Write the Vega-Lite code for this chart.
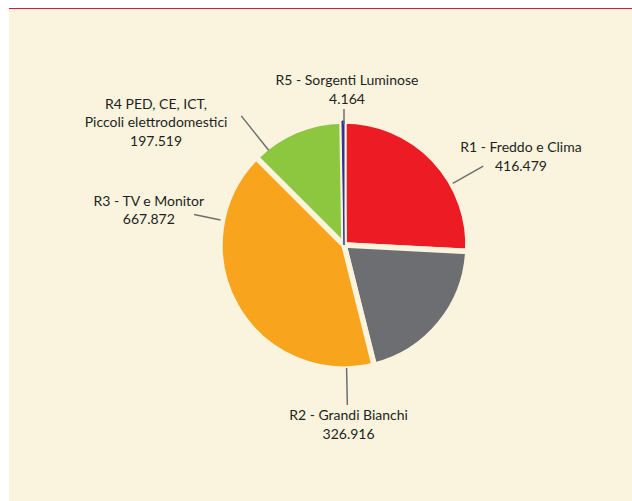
{
  "$schema": "https://vega.github.io/schema/vega-lite/v6.json",
  "background": "#FFFFFF",
  "padding": {"left": 9, "top": 8, "right": 0, "bottom": 0},
  "datasets": {
    "weee": [
      {"region": "R1", "name": "R1 - Freddo e Clima", "value": 416479},
      {"region": "R2", "name": "R2 - Grandi Bianchi", "value": 326916},
      {"region": "R3", "name": "R3 - TV e Monitor", "value": 667872},
      {"region": "R4", "name": "R4 PED, CE, ICT,\nPiccoli elettrodomestici", "value": 197519},
      {"region": "R5", "name": "R5 - Sorgenti Luminose", "value": 4164}
    ]
  },
  "spacing": 0,
  "vconcat": [
    {
      "width": 623, "height": 1,
      "view": {"fill": "#D6124B", "stroke": null},
      "data": {"name": "weee"},
      "mark": {"type": "point", "size": 0, "opacity": 0, "clip": true}
    },
    {
      "spacing": 0,
      "hconcat": [
        {
          "width": 47, "height": 472,
          "view": {"fill": "#FAF4DE", "stroke": null},
          "data": {"name": "weee"},
          "mark": {"type": "point", "size": 0, "opacity": 0, "clip": true}
        },
        {
          "width": 576, "height": 472,
          "view": {"fill": "#FAF4DE", "stroke": null},
          "data": {"name": "weee"},
          "layer": [
            {
              "mark": {"type": "arc", "outerRadius": 124, "clip": true},
              "encoding": {
                "theta": {"field": "value", "type": "quantitative", "stack": true},
                "order": {"field": "region", "sort": "ascending"},
                "color": {"field": "region", "type": "nominal", "legend": null,
                  "scale": {"domain": ["R1", "R2", "R3", "R4", "R5"],
                            "range": ["#ED1C24", "#6D6E71", "#F8A51D", "#8DC63F", "#2E3192"]}},
                "stroke": {"condition": {"test": "datum.region === 'R5'", "value": "#2E3192"}, "value": "#FAF4DE"},
                "strokeWidth": {"condition": {"test": "datum.region === 'R5'", "value": 1}, "value": 5.5}
              }
            },
            {
              "mark": {"type": "arc", "clip": true, "filled": false, "color": "#6D6E71", "strokeWidth": 1.5, "innerRadius": 125, "outerRadius": 160, "padAngle": 3, "thetaOffset": 0.2447, "theta2Offset": 0.2447},
              "encoding": {
                "theta": {"field": "value", "type": "quantitative", "stack": true},
                "order": {"field": "region", "sort": "ascending"},
                "strokeOpacity": {"condition": {"test": "datum.region === 'R1'", "value": 1}, "value": 0}
              }
            },
            {
              "mark": {"type": "arc", "clip": true, "filled": false, "color": "#6D6E71", "strokeWidth": 1.5, "innerRadius": 123, "outerRadius": 160, "padAngle": 3, "thetaOffset": 0.8615, "theta2Offset": 0.8615},
              "encoding": {
                "theta": {"field": "value", "type": "quantitative", "stack": true},
                "order": {"field": "region", "sort": "ascending"},
                "strokeOpacity": {"condition": {"test": "datum.region === 'R2'", "value": 1}, "value": 0}
              }
            },
            {
              "mark": {"type": "arc", "clip": true, "filled": false, "color": "#6D6E71", "strokeWidth": 1.5, "innerRadius": 126, "outerRadius": 153, "padAngle": 3, "thetaOffset": 0.7163, "theta2Offset": 0.7163},
              "encoding": {
                "theta": {"field": "value", "type": "quantitative", "stack": true},
                "order": {"field": "region", "sort": "ascending"},
                "strokeOpacity": {"condition": {"test": "datum.region === 'R3'", "value": 1}, "value": 0}
              }
            },
            {
              "mark": {"type": "arc", "clip": true, "filled": false, "color": "#6D6E71", "strokeWidth": 1.5, "innerRadius": 121, "outerRadius": 165, "padAngle": 3, "thetaOffset": -0.2711, "theta2Offset": -0.2711},
              "encoding": {
                "theta": {"field": "value", "type": "quantitative", "stack": true},
                "order": {"field": "region", "sort": "ascending"},
                "strokeOpacity": {"condition": {"test": "datum.region === 'R4'", "value": 1}, "value": 0}
              }
            },
            {
              "mark": {"type": "arc", "clip": true, "filled": false, "color": "#6D6E71", "strokeWidth": 1.5, "innerRadius": 121, "outerRadius": 136, "padAngle": 3, "thetaOffset": 0.008, "theta2Offset": 0.008},
              "encoding": {
                "theta": {"field": "value", "type": "quantitative", "stack": true},
                "order": {"field": "region", "sort": "ascending"},
                "strokeOpacity": {"condition": {"test": "datum.region === 'R5'", "value": 1}, "value": 0}
              }
            },
            {
              "mark": {"type": "text", "clip": true, "radius": 199.7, "thetaOffset": 0.2779, "baseline": "alphabetic", "align": "center", "lineBreak": "\n", "lineHeight": 18.5},
              "encoding": {
                "theta": {"field": "value", "type": "quantitative", "stack": true},
                "order": {"field": "region", "sort": "ascending"},
                "size": {"condition": {"test": "datum.region === 'R1'", "value": 14}, "value": 0},
                "text": {"condition": {"test": "datum.region === 'R1'", "field": "name", "type": "nominal"}, "value": ""}
              }
            },
            {
              "mark": {"type": "text", "clip": true, "radius": 199.7, "thetaOffset": 0.2779, "baseline": "alphabetic", "align": "center", "dy": 19},
              "encoding": {
                "theta": {"field": "value", "type": "quantitative", "stack": true},
                "order": {"field": "region", "sort": "ascending"},
                "size": {"condition": {"test": "datum.region === 'R1'", "value": 14}, "value": 0},
                "text": {"condition": {"test": "datum.region === 'R1'", "field": "value", "type": "quantitative", "format": ",d"}, "value": ""}
              }
            },
            {
              "mark": {"type": "text", "clip": true, "radius": 175, "thetaOffset": 0.8563, "baseline": "alphabetic", "align": "center", "lineBreak": "\n", "lineHeight": 18.5},
              "encoding": {
                "theta": {"field": "value", "type": "quantitative", "stack": true},
                "order": {"field": "region", "sort": "ascending"},
                "size": {"condition": {"test": "datum.region === 'R2'", "value": 14}, "value": 0},
                "text": {"condition": {"test": "datum.region === 'R2'", "field": "name", "type": "nominal"}, "value": ""}
              }
            },
            {
              "mark": {"type": "text", "clip": true, "radius": 175, "thetaOffset": 0.8563, "baseline": "alphabetic", "align": "center", "dy": 19},
              "encoding": {
                "theta": {"field": "value", "type": "quantitative", "stack": true},
                "order": {"field": "region", "sort": "ascending"},
                "size": {"condition": {"test": "datum.region === 'R2'", "value": 14}, "value": 0},
                "text": {"condition": {"test": "datum.region === 'R2'", "field": "value", "type": "quantitative", "format": ",d"}, "value": ""}
              }
            },
            {
              "mark": {"type": "text", "clip": true, "radius": 199, "thetaOffset": 0.7128, "baseline": "alphabetic", "align": "center", "lineBreak": "\n", "lineHeight": 18.5},
              "encoding": {
                "theta": {"field": "value", "type": "quantitative", "stack": true},
                "order": {"field": "region", "sort": "ascending"},
                "size": {"condition": {"test": "datum.region === 'R3'", "value": 14}, "value": 0},
                "text": {"condition": {"test": "datum.region === 'R3'", "field": "name", "type": "nominal"}, "value": ""}
              }
            },
            {
              "mark": {"type": "text", "clip": true, "radius": 199, "thetaOffset": 0.7128, "baseline": "alphabetic", "align": "center", "dy": 18},
              "encoding": {
                "theta": {"field": "value", "type": "quantitative", "stack": true},
                "order": {"field": "region", "sort": "ascending"},
                "size": {"condition": {"test": "datum.region === 'R3'", "value": 14}, "value": 0},
                "text": {"condition": {"test": "datum.region === 'R3'", "field": "value", "type": "quantitative", "format": ",d"}, "value": ""}
              }
            },
            {
              "mark": {"type": "text", "clip": true, "radius": 232, "thetaOffset": -0.5433, "baseline": "alphabetic", "align": "center", "lineBreak": "\n", "lineHeight": 18.5},
              "encoding": {
                "theta": {"field": "value", "type": "quantitative", "stack": true},
                "order": {"field": "region", "sort": "ascending"},
                "size": {"condition": {"test": "datum.region === 'R4'", "value": 14}, "value": 0},
                "text": {"condition": {"test": "datum.region === 'R4'", "field": "name", "type": "nominal"}, "value": ""}
              }
            },
            {
              "mark": {"type": "text", "clip": true, "radius": 232, "thetaOffset": -0.5433, "baseline": "alphabetic", "align": "center", "dy": 37},
              "encoding": {
                "theta": {"field": "value", "type": "quantitative", "stack": true},
                "order": {"field": "region", "sort": "ascending"},
                "size": {"condition": {"test": "datum.region === 'R4'", "value": 14}, "value": 0},
                "text": {"condition": {"test": "datum.region === 'R4'", "field": "value", "type": "quantitative", "format": ",d"}, "value": ""}
              }
            },
            {
              "mark": {"type": "text", "clip": true, "radius": 160, "thetaOffset": 0.0267, "baseline": "alphabetic", "align": "center", "lineBreak": "\n", "lineHeight": 18.5},
              "encoding": {
                "theta": {"field": "value", "type": "quantitative", "stack": true},
                "order": {"field": "region", "sort": "ascending"},
                "size": {"condition": {"test": "datum.region === 'R5'", "value": 14}, "value": 0},
                "text": {"condition": {"test": "datum.region === 'R5'", "field": "name", "type": "nominal"}, "value": ""}
              }
            },
            {
              "mark": {"type": "text", "clip": true, "radius": 160, "thetaOffset": 0.0267, "baseline": "alphabetic", "align": "center", "dy": 19},
              "encoding": {
                "theta": {"field": "value", "type": "quantitative", "stack": true},
                "order": {"field": "region", "sort": "ascending"},
                "size": {"condition": {"test": "datum.region === 'R5'", "value": 14}, "value": 0},
                "text": {"condition": {"test": "datum.region === 'R5'", "field": "value", "type": "quantitative", "format": ",d"}, "value": ""}
              }
            }
          ]
        }
      ]
    },
    {
      "width": 623, "height": 20,
      "view": {"fill": "#FAF4DE", "stroke": null},
      "data": {"name": "weee"},
      "mark": {"type": "point", "size": 0, "opacity": 0, "clip": true}
    }
  ],
  "config": {
    "view": {"stroke": null},
    "locale": {"number": {"decimal": ",", "thousands": ".", "grouping": [3], "currency": ["€", ""]}},
    "text": {"font": "Lato", "fontSize": 14, "color": "#231F20"}
  }
}
